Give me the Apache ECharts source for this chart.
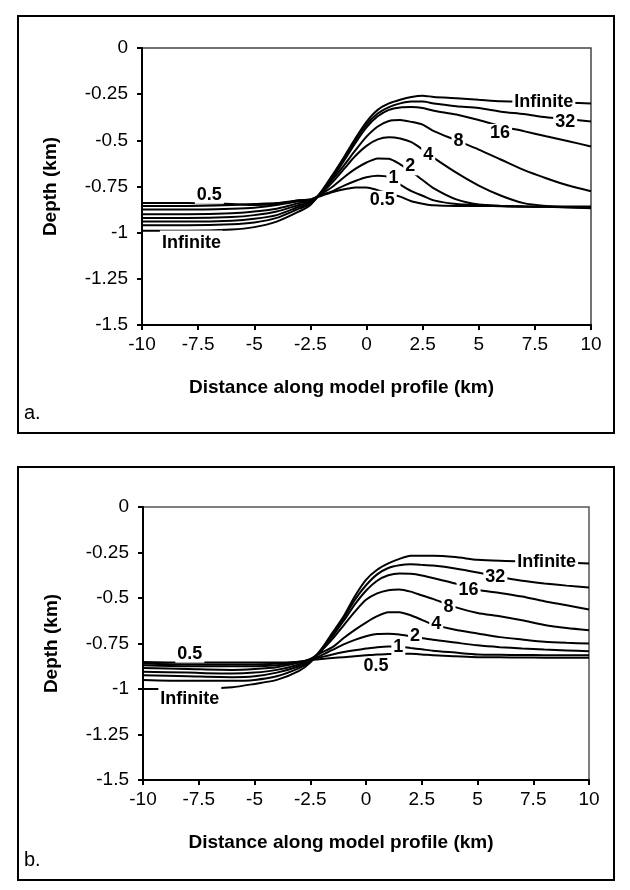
<!DOCTYPE html>
<html>
<head>
<meta charset="utf-8">
<script src="https://cdn.jsdelivr.net/npm/echarts@6/dist/echarts.min.js"></script>
<style>
  html, body { margin: 0; padding: 0; background: #fff; }
  #myChart { width: 630px; height: 890px; }
</style>
</head>
<body>
<div id="myChart"></div>
<script>
// distance along profile (km)
const xs = [-10, -8, -6, -5, -4, -3, -2.5, -2, -1.5, -1, -0.5, 0, 0.5, 1, 1.5, 2, 2.5, 3, 4, 5, 6, 7, 8, 9, 10];

// panel a depths (km)
const aInf = [-0.99, -0.99, -0.983, -0.97, -0.94, -0.885, -0.85, -0.775, -0.685, -0.59, -0.49, -0.40, -0.335, -0.30, -0.28, -0.265, -0.258, -0.265, -0.272, -0.28, -0.288, -0.29, -0.295, -0.297, -0.30];
const a32 = [-0.96, -0.96, -0.955, -0.945, -0.92, -0.87, -0.845, -0.78, -0.69, -0.60, -0.50, -0.415, -0.355, -0.32, -0.30, -0.29, -0.29, -0.30, -0.315, -0.325, -0.345, -0.358, -0.375, -0.385, -0.398];
const a16 = [-0.94, -0.94, -0.935, -0.925, -0.905, -0.86, -0.84, -0.78, -0.70, -0.61, -0.515, -0.43, -0.37, -0.335, -0.322, -0.32, -0.325, -0.34, -0.36, -0.39, -0.425, -0.45, -0.478, -0.505, -0.533];
const a8 = [-0.92, -0.92, -0.915, -0.905, -0.885, -0.85, -0.835, -0.78, -0.71, -0.635, -0.555, -0.48, -0.425, -0.395, -0.39, -0.40, -0.415, -0.45, -0.50, -0.55, -0.605, -0.66, -0.705, -0.745, -0.776];
const a4 = [-0.90, -0.90, -0.895, -0.885, -0.87, -0.84, -0.83, -0.785, -0.725, -0.655, -0.585, -0.53, -0.495, -0.483, -0.49, -0.51, -0.55, -0.595, -0.675, -0.745, -0.80, -0.84, -0.855, -0.862, -0.868];
const a2 = [-0.875, -0.875, -0.87, -0.865, -0.85, -0.83, -0.825, -0.79, -0.75, -0.70, -0.655, -0.62, -0.598, -0.60, -0.63, -0.67, -0.715, -0.76, -0.82, -0.848, -0.855, -0.858, -0.86, -0.863, -0.865];
const a1 = [-0.855, -0.855, -0.85, -0.845, -0.84, -0.825, -0.82, -0.795, -0.775, -0.745, -0.72, -0.70, -0.692, -0.70, -0.74, -0.775, -0.80, -0.825, -0.845, -0.85, -0.855, -0.858, -0.86, -0.862, -0.862];
const a05 = [-0.84, -0.84, -0.845, -0.85, -0.845, -0.825, -0.82, -0.80, -0.78, -0.765, -0.755, -0.755, -0.77, -0.79, -0.805, -0.83, -0.843, -0.852, -0.855, -0.855, -0.857, -0.858, -0.858, -0.858, -0.858];

// panel b depths (km)
const bInf = [-1.0, -1.0, -0.99, -0.972, -0.95, -0.90, -0.855, -0.78, -0.69, -0.60, -0.49, -0.40, -0.345, -0.31, -0.285, -0.268, -0.268, -0.268, -0.275, -0.29, -0.296, -0.298, -0.30, -0.305, -0.31];
const b32 = [-0.95, -0.955, -0.955, -0.95, -0.93, -0.885, -0.85, -0.785, -0.70, -0.61, -0.51, -0.43, -0.37, -0.335, -0.32, -0.315, -0.318, -0.322, -0.338, -0.36, -0.385, -0.405, -0.42, -0.432, -0.442];
const b16 = [-0.925, -0.93, -0.935, -0.93, -0.91, -0.875, -0.845, -0.785, -0.71, -0.625, -0.535, -0.46, -0.405, -0.375, -0.365, -0.367, -0.376, -0.39, -0.42, -0.455, -0.472, -0.492, -0.518, -0.54, -0.563];
const b8 = [-0.905, -0.91, -0.915, -0.91, -0.895, -0.865, -0.84, -0.79, -0.725, -0.65, -0.575, -0.51, -0.475, -0.457, -0.453, -0.465, -0.485, -0.505, -0.55, -0.582, -0.60, -0.622, -0.648, -0.665, -0.677];
const b4 = [-0.885, -0.89, -0.895, -0.89, -0.88, -0.855, -0.835, -0.80, -0.77, -0.72, -0.675, -0.635, -0.60, -0.578, -0.578, -0.595, -0.62, -0.645, -0.675, -0.695, -0.715, -0.728, -0.74, -0.746, -0.75];
const b2 = [-0.87, -0.875, -0.875, -0.875, -0.87, -0.855, -0.84, -0.815, -0.785, -0.755, -0.73, -0.71, -0.698, -0.696, -0.70, -0.71, -0.72, -0.73, -0.745, -0.76, -0.77, -0.777, -0.783, -0.788, -0.793];
const b1 = [-0.86, -0.865, -0.865, -0.865, -0.86, -0.85, -0.84, -0.825, -0.81, -0.797, -0.787, -0.778, -0.77, -0.766, -0.767, -0.775, -0.782, -0.79, -0.80, -0.81, -0.812, -0.813, -0.814, -0.815, -0.815];
const b05 = [-0.852, -0.855, -0.855, -0.855, -0.855, -0.85, -0.842, -0.835, -0.83, -0.825, -0.82, -0.815, -0.81, -0.808, -0.806, -0.807, -0.81, -0.815, -0.82, -0.825, -0.826, -0.827, -0.828, -0.828, -0.828];

// curve labels
const labelText = ['Infinite', '32', '16', '8', '4', '2', '1', '0.5', '0.5', 'Infinite'];
const aLabelX = [7.9, 8.85, 5.95, 4.1, 2.75, 1.95, 1.2, 0.7, -7.0, -7.8];
const aLabelY = [-0.29, -0.40, -0.46, -0.506, -0.578, -0.641, -0.704, -0.822, -0.795, -1.056];
const bLabelX = [8.1, 5.8, 4.6, 3.7, 3.15, 2.2, 1.45, 0.45, -7.9, -7.9];
const bLabelY = [-0.301, -0.384, -0.457, -0.552, -0.641, -0.71, -0.769, -0.876, -0.806, -1.054];

const font = "'Liberation Sans', Arial, sans-serif";

function pair(ys) {
  return xs.map((x, i) => [x, ys[i]]);
}

function curves(list, idx) {
  return list.map(ys => ({
    type: 'line',
    xAxisIndex: idx,
    yAxisIndex: idx,
    data: pair(ys),
    symbol: 'none',
    smooth: 0.25,
    lineStyle: {color: '#000', width: 2},
    z: 2
  }));
}

function labels(lx, ly, idx) {
  return {
    type: 'scatter',
    xAxisIndex: idx,
    yAxisIndex: idx,
    symbolSize: 1,
    itemStyle: {color: '#fff', opacity: 1},
    z: 5,
    data: lx.map((x, i) => ({
      value: [x, ly[i]],
      name: labelText[i],
      label: i === 9 ? {padding: [7, 2, 0, 2]} : {}
    })),
    label: {
      show: true,
      position: 'inside',
      formatter: '{b}',
      color: '#000',
      opacity: 1,
      textBorderWidth: 0,
      fontFamily: font,
      fontWeight: 'bold',
      fontSize: 18,
      backgroundColor: '#fff',
      padding: [0, 2]
    }
  };
}

function xAx(idx) {
  return {
    type: 'value', gridIndex: idx, min: -10, max: 10, interval: 2.5,
    name: 'Distance along model profile (km)',
    nameLocation: 'middle', nameGap: 53,
    nameTextStyle: {fontFamily: font, fontWeight: 'bold', fontSize: 19, color: '#000', padding: [0, 50, 0, 0]},
    axisLine: {onZero: false, lineStyle: {color: '#000', width: 2}},
    axisTick: {length: 5, lineStyle: {color: '#000', width: 2}},
    axisLabel: {fontFamily: font, fontSize: 19, color: '#000', margin: 10},
    splitLine: {show: false}
  };
}

function yAx(idx) {
  return {
    type: 'value', gridIndex: idx, min: -1.5, max: 0, interval: 0.25,
    name: 'Depth (km)',
    nameLocation: 'middle', nameGap: 82,
    nameTextStyle: {fontFamily: font, fontWeight: 'bold', fontSize: 19, color: '#000'},
    axisLine: {onZero: false, lineStyle: {color: '#000', width: 2}},
    axisTick: {length: 5, lineStyle: {color: '#000', width: 2}},
    axisLabel: {fontFamily: font, fontSize: 19, color: '#000', margin: 14},
    splitLine: {show: false}
  };
}

let myChart = echarts.init(document.getElementById('myChart'), null, {renderer: 'canvas'});

let option = {
  animation: false,
  backgroundColor: '#fff',
  grid: [
    {left: 142, top: 48, width: 449, height: 277, show: true, borderColor: '#444', borderWidth: 1.5},
    {left: 143, top: 507, width: 446, height: 273, show: true, borderColor: '#555', borderWidth: 1.5}
  ],
  xAxis: [xAx(0), xAx(1)],
  yAxis: [yAx(0), yAx(1)],
  series: [
    ...curves([a05, a1, a2, a4, a8, a16, a32, aInf], 0),
    ...curves([b05, b1, b2, b4, b8, b16, b32, bInf], 1),
    labels(aLabelX, aLabelY, 0),
    labels(bLabelX, bLabelY, 1)
  ],
  graphic: [
    {type: 'rect', shape: {x: 18, y: 16, width: 596, height: 417}, style: {fill: 'none', stroke: '#000', lineWidth: 2}},
    {type: 'rect', shape: {x: 18, y: 467, width: 596, height: 413}, style: {fill: 'none', stroke: '#000', lineWidth: 2}},
    {type: 'text', left: 24, top: 403, style: {text: 'a.', font: '20px ' + font, fill: '#000'}},
    {type: 'text', left: 24, top: 850, style: {text: 'b.', font: '20px ' + font, fill: '#000'}}
  ]
};

myChart.setOption(option);
</script>
</body>
</html>
